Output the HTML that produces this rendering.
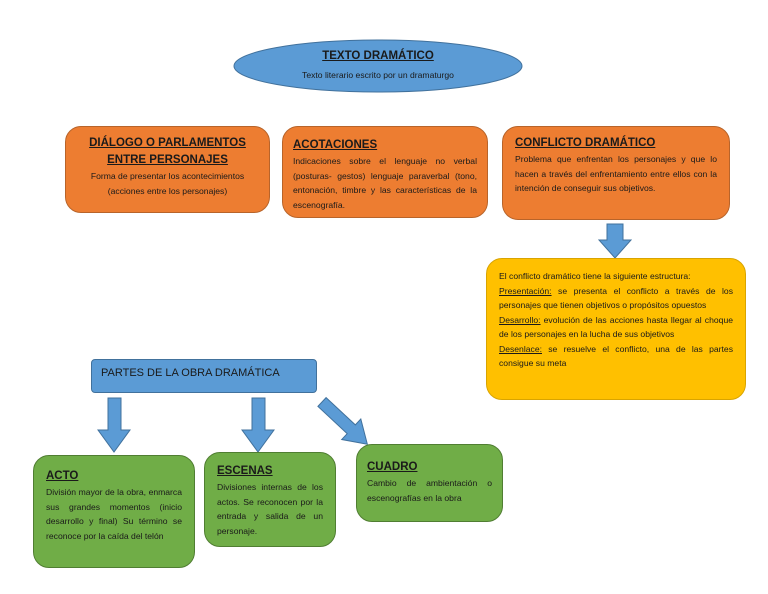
<!DOCTYPE html>
<html><head><meta charset="utf-8"><style>
body{margin:0;width:768px;height:594px;background:#fff;position:relative;overflow:hidden;font-family:"Liberation Sans",sans-serif;color:#1a1a1a}
.b{position:absolute;box-sizing:border-box;border-radius:16px;border:1px solid #b8642a;background:#ed7d31;padding:6px 10px;font-size:8.6px;line-height:14.5px}
.g{background:#70ad47;border-color:#507e32}
.y{background:#ffc000;border-color:#d9a400}
h{display:block;text-align:center;font-weight:bold;font-size:11.5px;text-decoration:underline;line-height:17px}
.j{text-align:justify;text-align-last:left}
.c{text-align:center}
u{text-decoration:underline}
</style></head><body>
<svg width="768" height="594" style="position:absolute;left:0;top:0">
<ellipse cx="378" cy="66" rx="144" ry="26" fill="#5b9bd5" stroke="#41719c"/>
<polygon points="607,224 623,224 623,240 631,240 615,258 599,240 607,240" fill="#5b9bd5" stroke="#41719c"/>
<polygon points="108,398 121,398 121,430 130,430 114,452 98,430 108,430" fill="#5b9bd5" stroke="#41719c"/>
<polygon points="252,398 265,398 265,430 274,430 258,452 242,430 252,430" fill="#5b9bd5" stroke="#41719c"/>
<g transform="translate(322,402) rotate(43)">
<polygon points="0,-6 40,-6 40,-14 62,0 40,14 40,6 0,6" fill="#5b9bd5" stroke="#41719c"/>
</g>
</svg>
<div style="position:absolute;left:234px;top:50px;width:288px;text-align:center;font-size:11.5px;font-weight:bold;text-decoration:underline">TEXTO DRAMÁTICO</div>
<div style="position:absolute;left:234px;top:70px;width:288px;text-align:center;font-size:8.6px">Texto literario escrito por un dramaturgo</div>

<div class="b c" style="left:65px;top:126px;width:205px;height:87px;padding-top:8px"><h>DIÁLOGO O PARLAMENTOS<br>ENTRE PERSONAJES</h>Forma de presentar los acontecimientos<br>(acciones entre los personajes)</div>
<div class="b j" style="left:282px;top:126px;width:206px;height:92px;padding-top:10px"><h>ACOTACIONES</h>Indicaciones sobre el lenguaje no verbal (posturas- gestos) lenguaje paraverbal (tono, entonación, timbre y las características de la escenografía.</div>
<div class="b j" style="left:502px;top:126px;width:228px;height:94px;padding:8px 12px"><h>CONFLICTO DRAMÁTICO</h>Problema que enfrentan los personajes y que lo hacen a través del enfrentamiento entre ellos con la intención de conseguir sus objetivos.</div>
<div class="b y j" style="left:486px;top:258px;width:260px;height:142px;padding:10px 12px">El conflicto dramático tiene la siguiente estructura:<br><u>Presentación:</u> se presenta el conflicto a través de los personajes que tienen objetivos o propósitos opuestos<br><u>Desarrollo:</u> evolución de las acciones hasta llegar al choque de los personajes en la lucha de sus objetivos<br><u>Desenlace:</u> se resuelve el conflicto, una de las partes consigue su meta</div>

<div class="b" style="left:91px;top:359px;width:226px;height:34px;background:#5b9bd5;border-color:#41719c;border-radius:4px;font-size:11px;padding:6px 9px">PARTES DE LA OBRA DRAMÁTICA</div>

<div class="b g j" style="left:33px;top:455px;width:162px;height:113px;padding:12px 12px"><h>ACTO</h>División mayor de la obra, enmarca sus grandes momentos (inicio desarrollo y final) Su término se reconoce por la caída del telón</div>
<div class="b g j" style="left:204px;top:452px;width:132px;height:95px;padding:10px 12px"><h>ESCENAS</h>Divisiones internas de los actos. Se reconocen por la entrada y salida de un personaje.</div>
<div class="b g j" style="left:356px;top:444px;width:147px;height:78px;padding:14px 10px"><h>CUADRO</h>Cambio de ambientación o escenografías en la obra</div>
</body></html>
